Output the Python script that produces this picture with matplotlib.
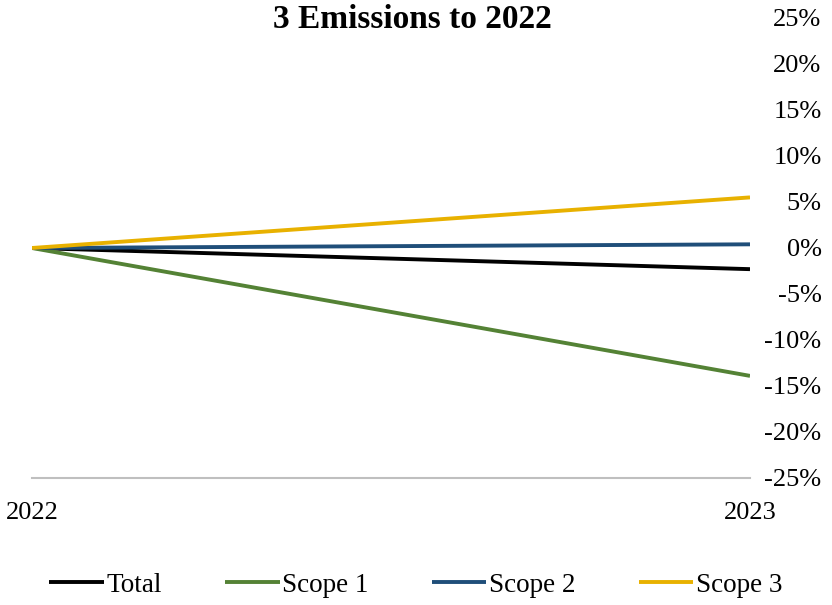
import matplotlib.pyplot as plt
from matplotlib.ticker import FuncFormatter

years = ["2022", "2023"]
total = [0.0, -2.3]
scope1 = [0.0, -13.9]
scope2 = [0.0, 0.4]
scope3 = [0.0, 5.5]

series = [
    ("Total", total, "#000000"),
    ("Scope 1", scope1, "#548235"),
    ("Scope 2", scope2, "#1F4E79"),
    ("Scope 3", scope3, "#E8B100"),
]

plt.rcParams['font.family'] = ['Liberation Serif', 'DejaVu Serif']

fig = plt.figure(figsize=(8.32, 6.05), dpi=100)
ax = fig.add_axes([32 / 832, 1 - 478 / 605, (750 - 32) / 832, (478 - 18) / 605])

x = list(range(len(years)))
for name, vals, col in series:
    ax.plot(x, vals, color=col, lw=2.8, label=name, solid_capstyle='butt')

ax.set_xlim(0, 1)
ax.set_ylim(-25, 25)
ax.set_yticks(range(-25, 26, 5))
ax.yaxis.set_major_formatter(FuncFormatter(lambda v, p: f"{v:.0f}%"))
ax.yaxis.tick_right()
ax.tick_params(axis='y', length=0, labelsize=19, pad=51.5)
for lab in ax.get_yticklabels():
    lab.set_horizontalalignment('right')
ax.set_xticks(x)
ax.set_xticklabels(years)
ax.tick_params(axis='x', length=0, labelsize=19, pad=17)

for s in ['top', 'left', 'right']:
    ax.spines[s].set_visible(False)
ax.spines['bottom'].set_position(('data', -25))
ax.spines['bottom'].set_color('#BFBFBF')
ax.spines['bottom'].set_linewidth(1.5)

fig.text(412 / 832, 1 - 19 / 605, "3 Emissions to 2022", ha='center', va='center',
         fontsize=24, fontweight='bold')

fig.legend(loc='center', bbox_to_anchor=(416 / 832, 1 - 585 / 605), ncol=4, frameon=False,
           fontsize=19.5, handlelength=2.0, handletextpad=0.1, columnspacing=2.35)

fig.savefig("out.png", dpi=100)
